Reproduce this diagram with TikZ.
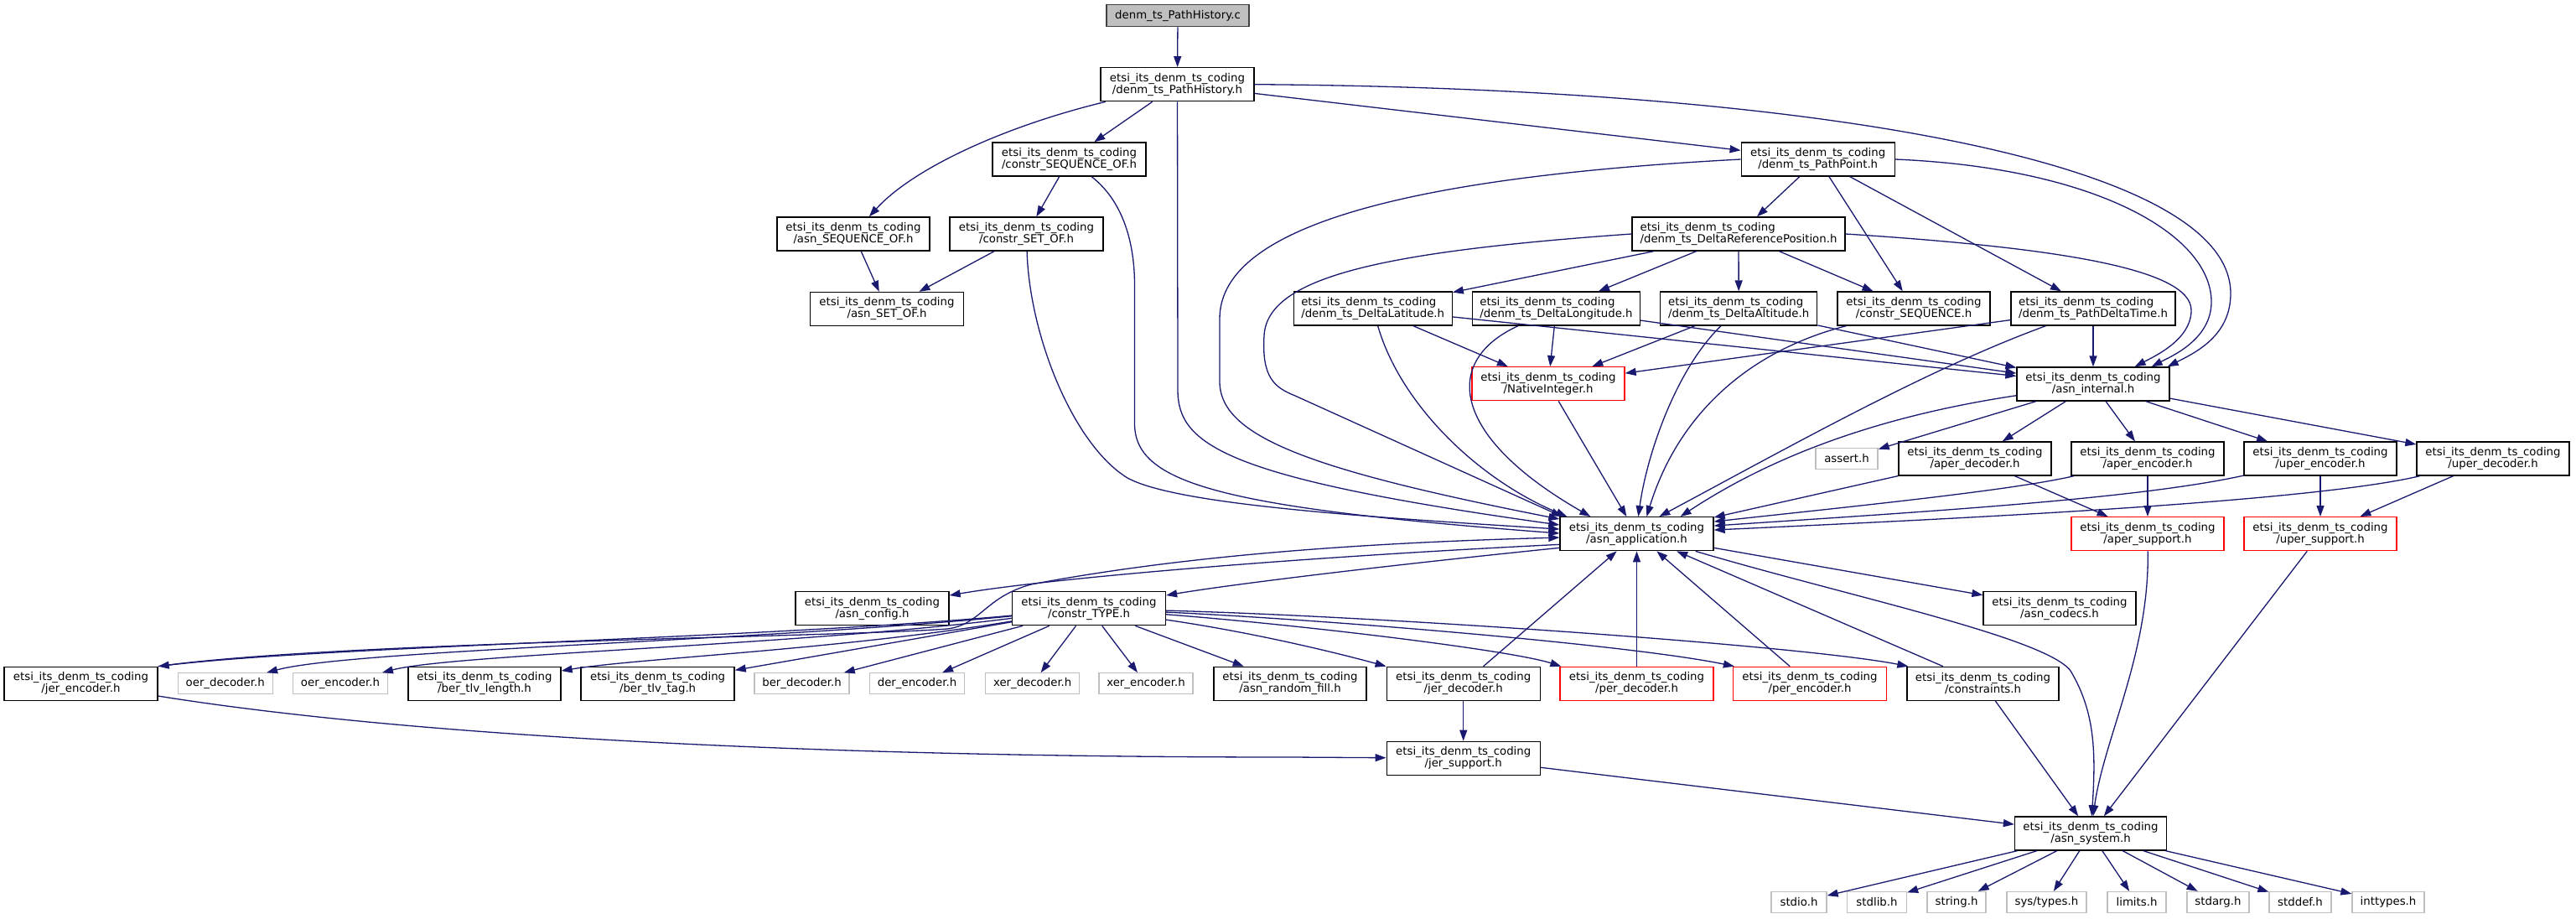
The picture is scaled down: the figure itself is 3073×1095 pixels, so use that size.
\documentclass[tikz,border=0pt]{standalone}
\usepackage{fontspec}
\setmainfont{DejaVu Sans}
\usetikzlibrary{arrows.meta}
\definecolor{edgeblue}{HTML}{191970}
\definecolor{nodegray}{HTML}{BFBFBF}
\definecolor{rootborder}{HTML}{404040}
\newcommand{\dxfont}{\fontsize{13.3pt}{14pt}\selectfont}
\newcommand{\pfx}{etsi\_its\_denm\_ts\_coding}
\tikzset{
  hbox/.style={draw=black, line width=1.3pt, fill=white, inner sep=0pt, align=center, minimum height=40pt, font=\dxfont, text=black},
  hboxl/.style={hbox, align=left},
  gbox/.style={hbox, draw=nodegray, minimum height=25pt},
  rbox/.style={hbox, draw=red},
  rootbox/.style={hbox, fill=nodegray, draw=rootborder, minimum height=26pt},
  dep/.style={draw=edgeblue, line width=1.3pt, -{Triangle[length=13pt,width=9pt]}},
}
\begin{document}
\begin{tikzpicture}[x=1pt,y=-1pt]
\fill[white] (0,0) rectangle (3073,1095);
\useasboundingbox (0,0) rectangle (3073,1095);

% nodes
\node[rootbox, minimum width=170pt] (root) at (1405,18.7) {denm\_ts\_PathHistory.c};
\node[hbox, minimum width=183pt] (pph) at (1404.5,100.7) {\pfx\\/denm\_ts\_PathHistory.h};
\node[hbox, minimum width=183pt] (cso) at (1275.5,190) {\pfx\\/constr\_SEQUENCE\_OF.h};
\node[hbox, minimum width=182pt] (aso) at (1018,279) {\pfx\\/asn\_SEQUENCE\_OF.h};
\node[hbox, minimum width=183pt] (cset) at (1224.5,279) {\pfx\\/constr\_SET\_OF.h};
\node[hbox, minimum width=183pt] (aset) at (1058,368.5) {\pfx\\/asn\_SET\_OF.h};
\node[hbox, minimum width=183pt] (ppt) at (2168.7,190) {\pfx\\/denm\_ts\_PathPoint.h};
\node[hboxl, minimum width=254pt] (drp) at (2074,279) {\pfx\\/denm\_ts\_DeltaReferencePosition.h};
\node[hboxl, minimum width=189pt] (dlat) at (1637.7,368) {\pfx\\/denm\_ts\_DeltaLatitude.h};
\node[hboxl, minimum width=200pt] (dlon) at (1856.5,368) {\pfx\\/denm\_ts\_DeltaLongitude.h};
\node[hboxl, minimum width=187pt] (dalt) at (2074.2,368) {\pfx\\/denm\_ts\_DeltaAltitude.h};
\node[hbox, minimum width=182pt] (cseq) at (2283,368) {\pfx\\/constr\_SEQUENCE.h};
\node[hboxl, minimum width=196pt] (pdt) at (2497,368) {\pfx\\/denm\_ts\_PathDeltaTime.h};
\node[rbox, minimum width=182pt] (nint) at (1847,457.7) {\pfx\\/NativeInteger.h};
\node[hbox, minimum width=182pt] (aint) at (2497,458) {\pfx\\/asn\_internal.h};
\node[hbox, minimum width=183pt] (app) at (1952.5,636.7) {\pfx\\/asn\_application.h};
\node[gbox, minimum width=74pt] (assert) at (2203,547) {assert.h};
\node[hbox, minimum width=182pt] (aperd) at (2356,547) {\pfx\\/aper\_decoder.h};
\node[hbox, minimum width=182pt] (apere) at (2562,547) {\pfx\\/aper\_encoder.h};
\node[hbox, minimum width=182pt] (upere) at (2768,547) {\pfx\\/uper\_encoder.h};
\node[hbox, minimum width=182pt] (uperd) at (2974,547) {\pfx\\/uper\_decoder.h};
\node[rbox, minimum width=182pt] (apers) at (2562,636.7) {\pfx\\/aper\_support.h};
\node[rbox, minimum width=182pt] (upers) at (2768,636.7) {\pfx\\/uper\_support.h};
\node[hbox, minimum width=182pt] (codecs) at (2457,725.7) {\pfx\\/asn\_codecs.h};
\node[hbox, minimum width=183pt] (config) at (1040.5,725.7) {\pfx\\/asn\_config.h};
\node[hbox, minimum width=183pt] (ctype) at (1299,725.7) {\pfx\\/constr\_TYPE.h};
\node[hbox, minimum width=183pt] (jere) at (96.5,815.3) {\pfx\\/jer\_encoder.h};
\node[gbox, minimum width=113pt] (oerd) at (268.7,815.3) {oer\_decoder.h};
\node[gbox, minimum width=113pt] (oere) at (406,815.3) {oer\_encoder.h};
\node[hbox, minimum width=182pt] (btl) at (578,815.3) {\pfx\\/ber\_tlv\_length.h};
\node[hbox, minimum width=183pt] (btt) at (784.6,815.3) {\pfx\\/ber\_tlv\_tag.h};
\node[gbox, minimum width=113pt] (berd) at (956.5,815.3) {ber\_decoder.h};
\node[gbox, minimum width=113pt] (dere) at (1094,815.3) {der\_encoder.h};
\node[gbox, minimum width=112pt] (xerd) at (1231.7,815.3) {xer\_decoder.h};
\node[gbox, minimum width=112pt] (xere) at (1367,815.3) {xer\_encoder.h};
\node[hbox, minimum width=182pt] (arf) at (1539,815.3) {\pfx\\/asn\_random\_fill.h};
\node[hbox, minimum width=183pt] (jerd) at (1745.7,815.3) {\pfx\\/jer\_decoder.h};
\node[rbox, minimum width=183pt] (perd) at (1952.5,815.3) {\pfx\\/per\_decoder.h};
\node[rbox, minimum width=183pt] (pere) at (2159,815.3) {\pfx\\/per\_encoder.h};
\node[hbox, minimum width=181pt] (cons) at (2365.5,815.3) {\pfx\\/constraints.h};
\node[hbox, minimum width=183pt] (jers) at (1745.7,904.3) {\pfx\\/jer\_support.h};
\node[hbox, minimum width=181pt] (sys) at (2494,994) {\pfx\\/asn\_system.h};
\node[gbox, minimum width=66pt] (stdio) at (2146,1076) {stdio.h};
\node[gbox, minimum width=71pt] (stdlib) at (2239,1076) {stdlib.h};
\node[gbox, minimum width=70pt] (string) at (2334,1076) {string.h};
\node[gbox, minimum width=95pt] (systypes) at (2441.4,1076) {sys/types.h};
\node[gbox, minimum width=70pt] (limits) at (2549,1076) {limits.h};
\node[gbox, minimum width=74pt] (stdarg) at (2646,1076) {stdarg.h};
\node[gbox, minimum width=74pt] (stddef) at (2744,1076) {stddef.h};
\node[gbox, minimum width=86pt] (inttypes) at (2849,1076) {inttypes.h};

% edges: top part
\draw[dep] (root) -- (pph);
\draw[dep] (pph) -- (cso);
\draw[dep] (pph) .. controls (1200,150) and (1090,200) .. (aso);
\draw[dep] (pph) -- (ppt);
\draw[dep] (pph.east) .. controls (2150,105) and (2661,190) .. (2661,350) .. controls (2661,400) and (2620,420) .. ([xshift=-3pt]aint.north east);
\draw[dep] (pph) -- (1405,465) .. controls (1405,530) and (1460,570) .. ([yshift=-10pt]app.north west);
\draw[dep] (cso) -- (cset);
\draw[dep] (cso) .. controls (1340,240) and (1353.5,290) .. (1353.5,340) -- (1353.5,505) .. controls (1353.5,575) and (1450,605) .. ([yshift=-20pt]app.north west);
\draw[dep] (aso) -- (aset);
\draw[dep] (cset) -- (aset);
\draw[dep] (cset) .. controls (1228,400) and (1280,530) .. (1345,570) .. controls (1400,600) and (1600,615) .. ([yshift=-15pt]app.north west);

\draw[dep] (ppt) -- (drp);
\draw[dep] (ppt) -- (cseq);
\draw[dep] (ppt) -- (pdt);
\draw[dep] (ppt.east) .. controls (2500,200) and (2638,280) .. (2638,360) .. controls (2638,405) and (2590,425) .. ([xshift=-22pt]aint.north east);
\draw[dep] (ppt.west) .. controls (1700,210) and (1455,265) .. (1455,380) -- (1455,455) .. controls (1455,520) and (1560,560) .. ([yshift=-3pt]app.north west);

\draw[dep] (drp) -- (dlat);
\draw[dep] (drp) -- (dlon);
\draw[dep] (drp) -- (dalt);
\draw[dep] (drp) -- (cseq);
\draw[dep] (drp.east) .. controls (2450,295) and (2614,320) .. (2614,370) .. controls (2614,405) and (2570,425) .. ([xshift=-42pt]aint.north east);
\draw[dep] (drp.west) .. controls (1650,300) and (1512,330) .. (1508,400) .. controls (1505,450) and (1520,462) .. (1545,472) -- ([xshift=3pt]app.north west);

\draw[dep] (dlat) -- (nint);
\draw[dep] (dlat) .. controls (1670,480) and (1760,570) .. ([xshift=9pt]app.north west);
\draw[dep] (dlat) -- (aint);
\draw[dep] (dlon) -- (nint);
\draw[dep] (dlon) .. controls (1720,430) and (1730,520) .. ([xshift=37pt]app.north west);
\draw[dep] (dlon) -- (aint);
\draw[dep] (dalt) -- (nint);
\draw[dep] (dalt) .. controls (2000,440) and (1965,540) .. ([xshift=94pt]app.north west);
\draw[dep] (dalt) -- (aint);
\draw[dep] (cseq) .. controls (2080,420) and (2000,500) .. ([xshift=104pt]app.north west);
\draw[dep] (pdt) -- (aint);
\draw[dep] (pdt) -- (nint);
\draw[dep] (pdt) .. controls (2300,440) and (2140,530) .. ([xshift=119pt]app.north west);
\draw[dep] (nint) -- (app);

% asn_internal
\draw[dep] (aint) .. controls (2250,495) and (2120,540) .. ([xshift=-40pt]app.north east);
\draw[dep] (aint) -- (assert);
\draw[dep] (aint) -- (aperd);
\draw[dep] (aint) -- (apere);
\draw[dep] (aint) -- (upere);
\draw[dep] (aint) -- (uperd);
\draw[dep] (aperd) -- ([yshift=-1pt]app.north east);
\draw[dep] (aperd) -- (apers);
\draw[dep] (apere) .. controls (2400,585) and (2200,605) .. ([yshift=-6pt]app.north east);
\draw[dep] (apere) -- (apers);
\draw[dep] (upere) .. controls (2550,595) and (2300,610) .. ([yshift=-11pt]app.north east);
\draw[dep] (upere) -- (upers);
\draw[dep] (uperd) .. controls (2750,600) and (2300,620) .. ([yshift=-16pt]app.north east);
\draw[dep] (uperd) -- (upers);
\draw[dep] (apers) .. controls (2564,780) and (2510,880) .. (sys);
\draw[dep] (upers) -- (sys);

% asn_application outgoing
\draw[dep] ([yshift=8pt]app.south west) .. controls (1540,665) and (1250,690) .. (config);
\draw[dep] ([yshift=4pt]app.south west) .. controls (1600,680) and (1450,700) .. (ctype);
\draw[dep] ([yshift=4pt]app.south east) -- (codecs);
\draw[dep] ([xshift=-22pt]app.south east) .. controls (2200,710) and (2440,760) .. (2470,800) .. controls (2500,850) and (2500,900) .. (sys);

% constr_TYPE
\draw[dep] (ctype) .. controls (900,762) and (400,770) .. (jere.north east);
\draw[dep] (ctype) .. controls (900,765) and (420,775) .. (oerd);
\draw[dep] (ctype) .. controls (950,770) and (540,780) .. (oere);
\draw[dep] (ctype) .. controls (1000,775) and (760,785) .. (btl);
\draw[dep] (ctype) -- (btt);
\draw[dep] (ctype) -- (berd);
\draw[dep] (ctype) -- (dere);
\draw[dep] (ctype) -- (xerd);
\draw[dep] (ctype) -- (xere);
\draw[dep] (ctype) -- (arf);
\draw[dep] (ctype) .. controls (1500,755) and (1600,780) .. (jerd.north west);
\draw[dep] (ctype) .. controls (1550,745) and (1800,775) .. ([xshift=2pt]perd.north west);
\draw[dep] (ctype) .. controls (1600,740) and (1950,770) .. ([xshift=2pt]pere.north west);
\draw[dep] (ctype) .. controls (1650,735) and (2150,770) .. ([xshift=2pt]cons.north west);

% lower row
\draw[dep] (jere.north east) .. controls (400,765) and (1000,760) .. (1130,750) .. controls (1170,745) and (1175,712) .. (1230,697) .. controls (1400,665) and (1600,648) .. ([yshift=-25pt]app.north west);
\draw[dep] (jere) .. controls (500,880) and (1000,903) .. (1540,903) -- (jers);
\draw[dep] (jerd) -- (jers);
\draw[dep] (jerd) -- (app);
\draw[dep] (perd) -- (app);
\draw[dep] (pere) -- (app);
\draw[dep] (cons) -- (app);
\draw[dep] (cons) -- (sys);
\draw[dep] (jers) -- (sys);

% asn_system
\draw[dep] (sys) -- (stdio);
\draw[dep] (sys) -- (stdlib);
\draw[dep] (sys) -- (string);
\draw[dep] (sys) -- (systypes);
\draw[dep] (sys) -- (limits);
\draw[dep] (sys) -- (stdarg);
\draw[dep] (sys) -- (stddef);
\draw[dep] (sys) -- (inttypes);
\end{tikzpicture}
\end{document}
